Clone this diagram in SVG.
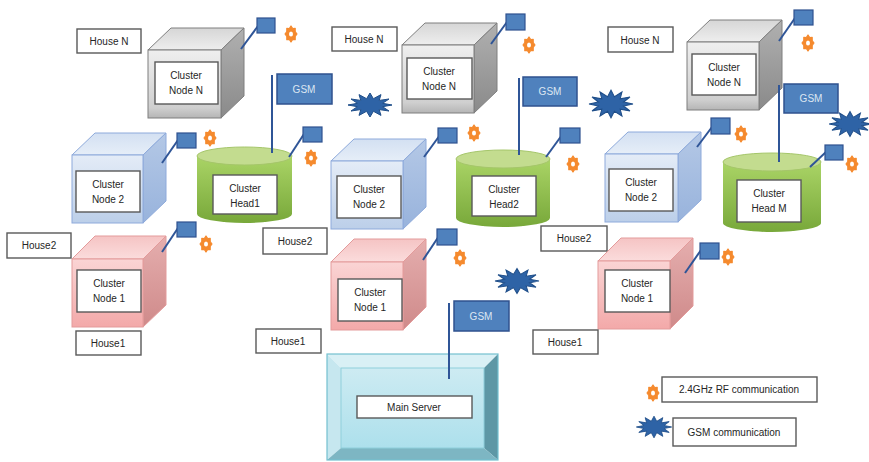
<svg xmlns="http://www.w3.org/2000/svg" width="869" height="462" viewBox="0 0 869 462">
  <defs>
    <style>
      .lbl { fill: #ffffff; stroke: #595959; stroke-width: 1.4; }
      .txt { font-family: "Liberation Sans", "Open Sans", sans-serif; font-size: 10px; fill: #262626; text-anchor: middle; }
      .gtxt { font-family: "Liberation Sans", "Open Sans", sans-serif; font-size: 10px; fill: #dce6f2; text-anchor: middle; }
      .pole { stroke: #2f5597; stroke-width: 2; fill: none; }
      .flag { fill: #4f81bd; stroke: #2f528f; stroke-width: 1.2; }
      .gflag { fill: #4f81bd; stroke: #2f528f; stroke-width: 1.5; }
      .burst { fill: #2e63a6; stroke: #1f4e89; stroke-width: 1; }
      .rf { fill: #f58a2e; stroke: #f58a2e; stroke-width: 1.2; stroke-linejoin: round; }
      .rfhole { fill: #ffffff; }
      .gray .front { fill: url(#grayFront); stroke: #7f7f7f; }
      .gray .top { fill: url(#grayTop); stroke: #7f7f7f; }
      .gray .side { fill: url(#graySide); stroke: #7f7f7f; }
      .blue .front { fill: url(#blueFront); stroke: #8eaadb; }
      .blue .top { fill: url(#blueTop); stroke: #8eaadb; }
      .blue .side { fill: url(#blueSide); stroke: #8eaadb; }
      .red .front { fill: url(#redFront); stroke: #e39b9b; }
      .red .top { fill: url(#redTop); stroke: #e39b9b; }
      .red .side { fill: url(#redSide); stroke: #e39b9b; }
      .cyl-body { fill: url(#greenBody); }
      .cyl-top { fill: #c3dc8f; stroke: #a5c66a; stroke-width: 1; }
    </style>
    <linearGradient id="grayFront" x1="0" y1="0" x2="0" y2="1">
      <stop offset="0" stop-color="#efefef"/><stop offset="0.85" stop-color="#cfcfcf"/><stop offset="1" stop-color="#b5b5b5"/>
    </linearGradient>
    <linearGradient id="grayTop" x1="0" y1="0" x2="0" y2="1">
      <stop offset="0" stop-color="#d6d6d6"/><stop offset="1" stop-color="#eeeeee"/>
    </linearGradient>
    <linearGradient id="graySide" x1="0" y1="0" x2="0" y2="1">
      <stop offset="0" stop-color="#b0b0b0"/><stop offset="1" stop-color="#8a8a8a"/>
    </linearGradient>
    <linearGradient id="blueFront" x1="0" y1="0" x2="0" y2="1">
      <stop offset="0" stop-color="#e4ecf7"/><stop offset="1" stop-color="#bccfe9"/>
    </linearGradient>
    <linearGradient id="blueTop" x1="0" y1="0" x2="0" y2="1">
      <stop offset="0" stop-color="#d3e0f2"/><stop offset="1" stop-color="#e6eef8"/>
    </linearGradient>
    <linearGradient id="blueSide" x1="0" y1="0" x2="0" y2="1">
      <stop offset="0" stop-color="#b4c8e6"/><stop offset="1" stop-color="#98b3dc"/>
    </linearGradient>
    <linearGradient id="redFront" x1="0" y1="0" x2="0" y2="1">
      <stop offset="0" stop-color="#fad4d4"/><stop offset="1" stop-color="#f3a9a9"/>
    </linearGradient>
    <linearGradient id="redTop" x1="0" y1="0" x2="0" y2="1">
      <stop offset="0" stop-color="#f5c4c4"/><stop offset="1" stop-color="#fbdcdc"/>
    </linearGradient>
    <linearGradient id="redSide" x1="0" y1="0" x2="0" y2="1">
      <stop offset="0" stop-color="#e5aeae"/><stop offset="1" stop-color="#cf8a8a"/>
    </linearGradient>
    <linearGradient id="greenBody" x1="0" y1="0" x2="0" y2="1">
      <stop offset="0" stop-color="#aad466"/><stop offset="1" stop-color="#78a83a"/>
    </linearGradient>
    <linearGradient id="serverFace" x1="0" y1="0" x2="0" y2="1">
      <stop offset="0" stop-color="#cdebf2"/><stop offset="1" stop-color="#ade0ec"/>
    </linearGradient>
    <!-- 2.4GHz RF symbol: small orange cog -->
    <g id="rf">
      <polygon class="rf" points="6,0 4.2,2.3 4.2,5.7 1.7,5.5 0,8 -1.7,5.5 -4.2,5.7 -4.2,2.3 -6,0 -4.2,-2.3 -4.2,-5.7 -1.7,-5.5 0,-8 1.7,-5.5 4.2,-5.7 4.2,-2.3"/>
      <ellipse class="rfhole" cx="0" cy="0" rx="2" ry="2.6"/>
    </g>
    <!-- GSM symbol: blue starburst -->
    <polygon id="burst" class="burst" points="22,0 12.6,1.7 19,6 9.2,4.6 11,10.4 3.4,6.3 0,12 -3.4,6.3 -11,10.4 -9.2,4.6 -19,6 -12.6,1.7 -22,0 -12.6,-1.7 -19,-6 -9.2,-4.6 -11,-10.4 -3.4,-6.3 0,-12 3.4,-6.3 11,-10.4 9.2,-4.6 19,-6 12.6,-1.7"/>
  </defs>

  <rect width="869" height="462" fill="#ffffff"/>

  <!-- ===== Cluster 1 ===== -->
  <g id="c1-house-n"><rect class="lbl" x="77" y="29" width="64" height="24"/><text class="txt" x="109" y="45">House N</text></g>
  <g id="c1-node-n" class="gray">
    <polygon class="top" points="148,50 171,28 244,28 221,50"/>
    <polygon class="side" points="221,50 244,28 244,96 221,118"/>
    <rect class="front" x="148" y="50" width="73" height="68"/>
    <rect class="lbl" x="155" y="62" width="63" height="42"/>
    <text class="txt" x="186" y="79">Cluster</text><text class="txt" x="186" y="94">Node N</text>
    <line class="pole" x1="241" y1="49" x2="258" y2="26"/>
    <rect class="flag" x="257" y="18" width="18" height="15"/>
    <use href="#rf" x="291" y="34"/>
  </g>
  <g id="c1-node-2" class="blue">
    <polygon class="top" points="72,155 95,133 166,133 143,155"/>
    <polygon class="side" points="143,155 166,133 166,201 143,223"/>
    <rect class="front" x="72" y="155" width="71" height="68"/>
    <rect class="lbl" x="76" y="171" width="64" height="41"/>
    <text class="txt" x="108" y="188">Cluster</text><text class="txt" x="108" y="203">Node 2</text>
    <line class="pole" x1="162" y1="163" x2="178" y2="140"/>
    <rect class="flag" x="177" y="133" width="19" height="15"/>
    <use href="#rf" x="210" y="138"/>
  </g>
  <g id="c1-node-1" class="red">
    <polygon class="top" points="72,259 95,236 166,236 143,259"/>
    <polygon class="side" points="143,259 166,236 166,305 143,327"/>
    <rect class="front" x="72" y="259" width="71" height="68"/>
    <rect class="lbl" x="77" y="270" width="64" height="42"/>
    <text class="txt" x="109" y="287">Cluster</text><text class="txt" x="109" y="302">Node 1</text>
    <line class="pole" x1="162" y1="252" x2="178" y2="228"/>
    <rect class="flag" x="177" y="222" width="19" height="15"/>
    <use href="#rf" x="206" y="244"/>
  </g>
  <g id="c1-house-2"><rect class="lbl" x="7" y="233" width="64" height="25"/><text class="txt" x="39" y="249">House2</text></g>
  <g id="c1-house-1"><rect class="lbl" x="76" y="331" width="65" height="24"/><text class="txt" x="108" y="347">House1</text></g>
  <g id="c1-head">
    <path class="cyl-body" d="M197,156 L197,214 A47.5,9 0 0 0 292,214 L292,156 Z"/>
    <ellipse class="cyl-top" cx="244.5" cy="156" rx="47.5" ry="9"/>
    <rect class="lbl" x="213" y="175" width="64" height="39"/>
    <text class="txt" x="245" y="192">Cluster</text><text class="txt" x="245" y="207">Head1</text>
    <line class="pole" x1="289" y1="157" x2="304" y2="134"/>
    <rect class="flag" x="303" y="127" width="19" height="15"/>
    <use href="#rf" x="311" y="158"/>
    <line class="pole" x1="272" y1="75" x2="272" y2="153"/>
    <rect class="gflag" x="277" y="74" width="55" height="30"/>
    <text class="gtxt" x="304" y="93">GSM</text>
  </g>

  <!-- ===== Cluster 2 ===== -->
  <g id="c2-house-n"><rect class="lbl" x="332" y="27" width="65" height="24"/><text class="txt" x="364" y="43">House N</text></g>
  <g id="c2-node-n" class="gray">
    <polygon class="top" points="402,45 425,23 497,23 474,45"/>
    <polygon class="side" points="474,45 497,23 497,91 474,113"/>
    <rect class="front" x="402" y="45" width="72" height="68"/>
    <rect class="lbl" x="407" y="58" width="65" height="41"/>
    <text class="txt" x="439" y="75">Cluster</text><text class="txt" x="439" y="90">Node N</text>
    <line class="pole" x1="491" y1="44" x2="507" y2="22"/>
    <rect class="flag" x="506" y="14" width="19" height="16"/>
    <use href="#rf" x="529" y="45"/>
  </g>
  <g id="c2-node-2" class="blue">
    <polygon class="top" points="331,161 354,139 426,139 403,161"/>
    <polygon class="side" points="403,161 426,139 426,207 403,229"/>
    <rect class="front" x="331" y="161" width="72" height="68"/>
    <rect class="lbl" x="337" y="176" width="64" height="42"/>
    <text class="txt" x="369" y="193">Cluster</text><text class="txt" x="369" y="208">Node 2</text>
    <line class="pole" x1="424" y1="157" x2="440" y2="135"/>
    <rect class="flag" x="438" y="128" width="19" height="15"/>
    <use href="#rf" x="474" y="133"/>
  </g>
  <g id="c2-head">
    <path class="cyl-body" d="M456,159 L456,218 A47,9 0 0 0 550,218 L550,159 Z"/>
    <ellipse class="cyl-top" cx="503" cy="159" rx="47" ry="9"/>
    <rect class="lbl" x="472" y="176" width="64" height="40"/>
    <text class="txt" x="504" y="193">Cluster</text><text class="txt" x="504" y="208">Head2</text>
    <line class="pole" x1="546" y1="157" x2="562" y2="135"/>
    <rect class="flag" x="560" y="128" width="20" height="15"/>
    <use href="#rf" x="573" y="164"/>
    <line class="pole" x1="519" y1="78" x2="519" y2="155"/>
    <rect class="gflag" x="523" y="77" width="54" height="29"/>
    <text class="gtxt" x="550" y="95">GSM</text>
  </g>
  <g id="c2-house-2"><rect class="lbl" x="263" y="228" width="64" height="26"/><text class="txt" x="295" y="245">House2</text></g>
  <g id="c2-node-1" class="red">
    <polygon class="top" points="331,262 354,239 426,239 403,262"/>
    <polygon class="side" points="403,262 426,239 426,307 403,330"/>
    <rect class="front" x="331" y="262" width="72" height="68"/>
    <rect class="lbl" x="338" y="279" width="64" height="42"/>
    <text class="txt" x="370" y="296">Cluster</text><text class="txt" x="370" y="311">Node 1</text>
    <line class="pole" x1="423" y1="260" x2="439" y2="236"/>
    <rect class="flag" x="437" y="229" width="20" height="16"/>
    <use href="#rf" x="460" y="258"/>
  </g>
  <g id="c2-house-1"><rect class="lbl" x="256" y="329" width="65" height="24"/><text class="txt" x="288" y="345">House1</text></g>

  <!-- ===== Cluster M ===== -->
  <g id="c3-house-n"><rect class="lbl" x="608" y="27" width="65" height="25"/><text class="txt" x="640" y="44">House N</text></g>
  <g id="c3-node-n" class="gray">
    <polygon class="top" points="687,42 710,20 782,20 759,42"/>
    <polygon class="side" points="759,42 782,20 782,88 759,110"/>
    <rect class="front" x="687" y="42" width="72" height="68"/>
    <rect class="lbl" x="692" y="54" width="64" height="41"/>
    <text class="txt" x="724" y="71">Cluster</text><text class="txt" x="724" y="86">Node N</text>
    <line class="pole" x1="779" y1="41" x2="795" y2="18"/>
    <rect class="flag" x="794" y="10" width="19" height="15"/>
    <use href="#rf" x="808" y="43"/>
  </g>
  <g id="c3-node-2" class="blue">
    <polygon class="top" points="605,154 628,132 701,132 678,154"/>
    <polygon class="side" points="678,154 701,132 701,200 678,222"/>
    <rect class="front" x="605" y="154" width="73" height="68"/>
    <rect class="lbl" x="609" y="169" width="64" height="42"/>
    <text class="txt" x="641" y="186">Cluster</text><text class="txt" x="641" y="201">Node 2</text>
    <line class="pole" x1="697" y1="147" x2="712" y2="127"/>
    <rect class="flag" x="711" y="118" width="19" height="16"/>
    <use href="#rf" x="741" y="134"/>
  </g>
  <g id="c3-head">
    <path class="cyl-body" d="M723,162 L723,223 A49,9 0 0 0 821,223 L821,162 Z"/>
    <ellipse class="cyl-top" cx="772" cy="162" rx="49" ry="9"/>
    <rect class="lbl" x="737" y="180" width="64" height="42"/>
    <text class="txt" x="769" y="197">Cluster</text><text class="txt" x="769" y="212">Head M</text>
    <line class="pole" x1="810" y1="167" x2="826" y2="152"/>
    <rect class="flag" x="825" y="145" width="18" height="15"/>
    <use href="#rf" x="852" y="164"/>
    <line class="pole" x1="779" y1="85" x2="779" y2="162"/>
    <rect class="gflag" x="784" y="84" width="54" height="29"/>
    <text class="gtxt" x="811" y="102">GSM</text>
  </g>
  <g id="c3-house-2"><rect class="lbl" x="541" y="226" width="66" height="25"/><text class="txt" x="574" y="242">House2</text></g>
  <g id="c3-node-1" class="red">
    <polygon class="top" points="598,261 621,238 693,238 670,261"/>
    <polygon class="side" points="670,261 693,238 693,306 670,329"/>
    <rect class="front" x="598" y="261" width="72" height="68"/>
    <rect class="lbl" x="605" y="270" width="65" height="42"/>
    <text class="txt" x="637" y="287">Cluster</text><text class="txt" x="637" y="302">Node 1</text>
    <line class="pole" x1="685" y1="273" x2="701" y2="250"/>
    <rect class="flag" x="700" y="243" width="19" height="16"/>
    <use href="#rf" x="728" y="257"/>
  </g>
  <g id="c3-house-1"><rect class="lbl" x="533" y="330" width="65" height="24"/><text class="txt" x="565" y="346">House1</text></g>

  <!-- ===== Main server ===== -->
  <g id="main-server">
    <rect x="341" y="368" width="143" height="80" fill="url(#serverFace)"/>
    <polygon points="327,354 498,354 484,368 341,368" fill="#d9f0f5"/>
    <polygon points="327,354 341,368 341,448 327,460" fill="#c6e7ef"/>
    <polygon points="498,354 498,460 484,448 484,368" fill="#5e97a5"/>
    <polygon points="327,460 498,460 484,448 341,448" fill="#7db6c3"/>
    <rect x="327" y="354" width="171" height="106" fill="none" stroke="#74c0cf" stroke-width="1.2"/>
    <rect x="341" y="368" width="143" height="80" fill="none" stroke="#8fcfdc" stroke-width="1"/>
    <rect class="lbl" x="357" y="396" width="115" height="22"/>
    <text class="txt" x="414" y="411">Main Server</text>
    <line class="pole" x1="449" y1="303" x2="449" y2="379"/>
    <rect class="gflag" x="454" y="301" width="55" height="30"/>
    <text class="gtxt" x="481" y="320">GSM</text>
  </g>

  <!-- ===== GSM links ===== -->
  <g id="connectors">
    <use href="#burst" transform="translate(370,105)"/>
    <use href="#burst" transform="translate(517,281) scale(1,1.05)"/>
    <use href="#burst" transform="translate(611,104) scale(1,1.15)"/>
    <use href="#burst" transform="translate(850,124) scale(0.95,1.05)"/>
  </g>

  <!-- ===== Legend ===== -->
  <g id="legend">
    <use href="#rf" x="653" y="393"/>
    <rect class="lbl" x="662" y="377" width="155" height="25"/>
    <text class="txt" x="739" y="393">2.4GHz RF communication</text>
    <use href="#burst" transform="translate(654,427) scale(0.8,0.9)"/>
    <rect class="lbl" x="673" y="418" width="123" height="28"/>
    <text class="txt" x="734" y="436">GSM communication</text>
  </g>
</svg>
